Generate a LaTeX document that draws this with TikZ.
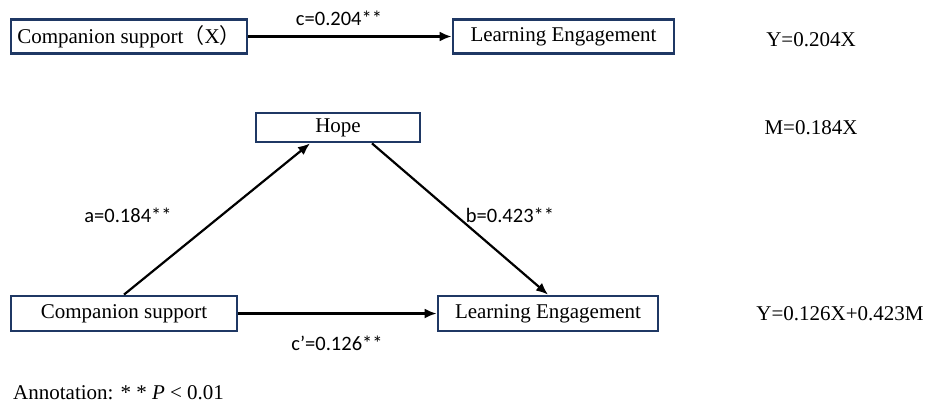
\documentclass[tikz,border=0pt]{standalone}
\usepackage{fontspec}
\setmainfont{Liberation Serif}
\newfontfamily\labelfont{Carlito}
\newfontfamily\cjk{Noto Sans CJK SC}
\usetikzlibrary{arrows.meta}
\definecolor{boxnavy}{RGB}{31,56,100}

\begin{document}
\begin{tikzpicture}[x=1pt,y=-1pt,
  varbox/.style={draw=boxnavy,line width=2.8pt,inner sep=0pt,font=\fontsize{21}{25}\selectfont},
  effarrow/.style={-{Latex[length=12pt,width=10pt]},line width=2.2pt},
  coef/.style={font=\labelfont\fontsize{20.5}{24}\selectfont},
  eqn/.style={font=\fontsize{21}{25}\selectfont}]
  \useasboundingbox (0,0) rectangle (925,405);
  % total effect
  \node[varbox,minimum width=236pt,minimum height=34pt] (xtop) at (129,36.5) {Companion support{\cjk （}X{\cjk ）}};
  \node[varbox,minimum width=221pt,minimum height=34pt] (ytop) at (563.5,36.5) {Learning Engagement};
  \draw[effarrow] (xtop) -- (ytop);
  \node[coef] (c) at (339,18) {c=0.204**};
  \node[eqn] (eqtop) at (811,40) {Y=0.204X};
  % mediation model
  \node[varbox,minimum width=164pt,minimum height=29pt] (hope) at (338,127.5) {Hope};
  \node[varbox,minimum width=226pt,minimum height=35pt] (xbot) at (124,313.5) {Companion support};
  \node[varbox,minimum width=220pt,minimum height=35pt] (ybot) at (548,313.5) {Learning Engagement};
  \draw[effarrow] (xbot.north) -- ([xshift=-28pt]hope.south);
  \draw[effarrow] ([xshift=34pt]hope.south) -- (ybot.north);
  \draw[effarrow] (xbot) -- (ybot);
  \node[coef] (a) at (128,215) {a=0.184**};
  \node[coef] (b) at (510,215) {b=0.423**};
  \node[coef] (cp) at (337,343) {c\textquoteright=0.126**};
  \node[eqn] (eqm) at (811,128) {M=0.184X};
  \node[eqn] (eqbot) at (840,314) {Y=0.126X+0.423M};
  \node[eqn,anchor=west,inner sep=0pt] (note) at (13,393) {Annotation: * * \textit{P} < 0.01};
\end{tikzpicture}
\end{document}
